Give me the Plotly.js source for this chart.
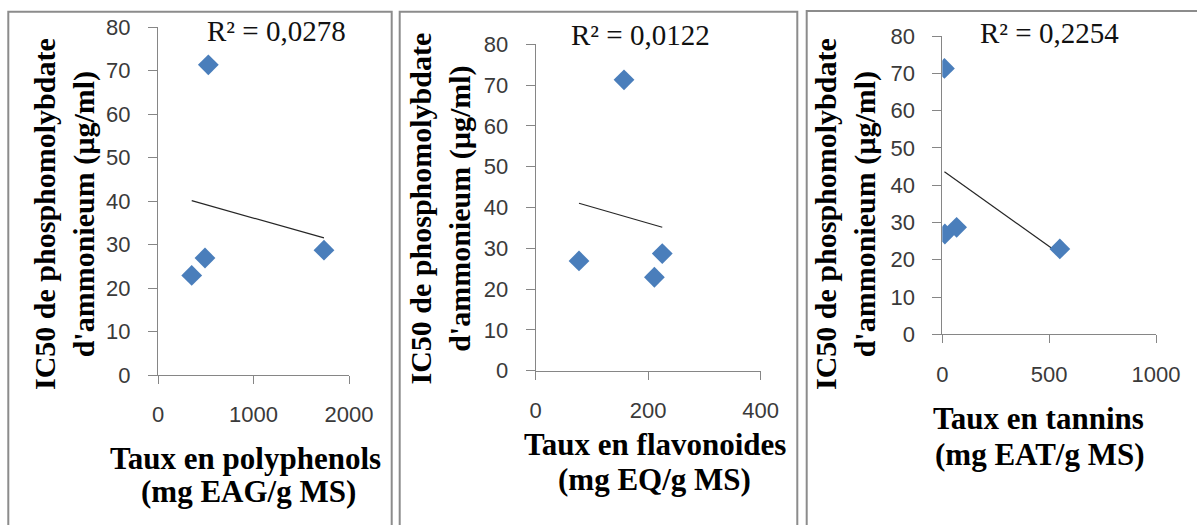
<!DOCTYPE html>
<html>
<head>
<meta charset="utf-8">
<script src="https://cdn.plot.ly/plotly-3.0.1.min.js"></script>
<style>
  html, body { margin: 0; padding: 0; background: #ffffff; }
  #chart { width: 1197px; height: 525px; }
</style>
</head>
<body>
<div id="chart"></div>
<script>
// ---- Data ----
// Four samples: IC50 of phosphomolybdate (µg/ml)
const ic50 = [22.9, 26.9, 71.3, 28.7];
// Content of each sample
const polyphenols = [353, 492, 527, 1738];   // mg EAG/g MS
const flavonoides = [211, 77, 157, 225];     // mg EQ/g MS
const tannins = [550, 12, 10, 67];           // mg EAT/g MS

const r2Labels = ["R² = 0,0278", "R² = 0,0122", "R² = 0,2254"];
const yTitleLines = ["IC50 de phosphomolybdate", "d'ammonieum (µg/ml)"];
const xTitleLines = [
  ["Taux en polyphenols", "(mg EAG/g MS)"],
  ["Taux en flavonoides", "(mg EQ/g MS)"],
  ["Taux en tannins", "(mg EAT/g MS)"]
];
const xRanges = [[0, 2000], [0, 400], [0, 1000]];
const xDticks = [1000, 200, 500];
const yRange = [0, 80];
const yDtick = 10;

// ---- Layout helpers (pixel -> paper) ----
const W = 1197, H = 525;
const px = x => x / W;
const py = y => 1 - y / H;

const serif = 'Liberation Serif, Times New Roman, DejaVu Serif, serif';
const sans = 'Liberation Sans, Arial, sans-serif';
const axisGray = '#868686';
const tickColor = '#3a3a3a';
const markerBlue = '#4a7ebb';

// Least-squares linear trend line across the data x-range
function trend(xs, ys) {
  const n = xs.length;
  const mx = xs.reduce((a, b) => a + b, 0) / n;
  const my = ys.reduce((a, b) => a + b, 0) / n;
  let sxy = 0, sxx = 0;
  for (let i = 0; i < n; i++) { sxy += (xs[i] - mx) * (ys[i] - my); sxx += (xs[i] - mx) ** 2; }
  const b = sxy / sxx, a = my - b * mx;
  const x0 = Math.min(...xs), x1 = Math.max(...xs);
  return { x: [x0, x1], y: [a + b * x0, a + b * x1] };
}

const xsets = [polyphenols, flavonoides, tannins];
const traces = [];
xsets.forEach((xs, i) => {
  const ax = i === 0 ? '' : String(i + 1);
  const t = trend(xs, ic50);
  traces.push({
    type: 'scatter', mode: 'lines', x: t.x, y: t.y,
    xaxis: 'x' + ax, yaxis: 'y' + ax,
    line: { color: '#262626', width: 1.2 }, hoverinfo: 'skip', showlegend: false
  });
  traces.push({
    type: 'scatter', mode: 'markers', x: xs, y: ic50,
    xaxis: 'x' + ax, yaxis: 'y' + ax,
    marker: { symbol: 'diamond', size: 16, color: markerBlue, line: { width: 0 } },
    showlegend: false
  });
});

// plot-area pixel boxes: [left, right, top(80), bottom(0)]
const boxes = [
  [158, 349, 27, 375],
  [535.7, 760.7, 44.3, 370.7],
  [942.3, 1156, 36, 334.3]
];

const layout = {
  width: W, height: H,
  margin: { l: 0, r: 0, t: 0, b: 0 },
  paper_bgcolor: '#ffffff', plot_bgcolor: '#ffffff',
  showlegend: false,
  shapes: [], annotations: []
};

boxes.forEach((b, i) => {
  const ax = i === 0 ? '' : String(i + 1);
  layout['xaxis' + ax] = {
    domain: [px(b[0]), px(b[1])], anchor: 'y' + ax,
    range: xRanges[i], dtick: xDticks[i], tick0: 0,
    showgrid: false, zeroline: false, showline: true,
    linecolor: axisGray, linewidth: 1,
    ticks: 'outside', ticklen: 8, tickcolor: axisGray, tickwidth: 1,
    ticklabelstandoff: 12,
    tickfont: { family: sans, size: 22, color: tickColor },
    fixedrange: true
  };
  layout['yaxis' + ax] = {
    domain: [py(b[3]), py(b[2])], anchor: 'x' + ax,
    range: yRange, dtick: yDtick, tick0: 0,
    showgrid: false, zeroline: false, showline: true,
    linecolor: axisGray, linewidth: 1,
    ticks: 'outside', ticklen: 9, tickcolor: axisGray, tickwidth: 1,
    ticklabelstandoff: 13,
    tickfont: { family: sans, size: 22, color: tickColor },
    fixedrange: true
  };
});

// Panel borders (bottom edge continues below the picture)
const borders = [[8.3, 391.7, 11.7], [399.7, 797.3, 11.7], [806.7, 1210, 11]];
borders.forEach(bd => {
  layout.shapes.push({
    type: 'rect', xref: 'paper', yref: 'paper',
    x0: px(bd[0]), x1: px(bd[1]), y0: -0.05, y1: py(bd[2]),
    line: { color: '#8c8c8c', width: 2 }, fillcolor: 'rgba(0,0,0,0)', layer: 'below'
  });
});

// R² labels
const r2Pos = [[276, 31], [640, 35], [1049, 33]];
r2Pos.forEach((p, i) => {
  layout.annotations.push({
    xref: 'paper', yref: 'paper', x: px(p[0]), y: py(p[1]),
    xanchor: 'center', yanchor: 'middle', showarrow: false,
    text: r2Labels[i], font: { family: serif, size: 29, color: '#111111' }
  });
});

// Y titles (rotated, two lines)
const yTitlePos = [[65, 214], [440.5, 209], [846, 214]];
yTitlePos.forEach(p => {
  layout.annotations.push({
    xref: 'paper', yref: 'paper', x: px(p[0]), y: py(p[1]),
    xanchor: 'center', yanchor: 'middle', showarrow: false, textangle: -90,
    text: yTitleLines[0] + '<br>' + yTitleLines[1],
    font: { family: serif, size: 30, color: '#000000', weight: 'bold' }
  });
});

// X titles (one annotation per line)
const xTitlePos = [
  [[245, 458], [248, 491]],
  [[655, 444], [654, 479.5]],
  [[1038, 418], [1040, 454.5]]
];
xTitlePos.forEach((pair, i) => {
  pair.forEach((p, j) => {
    layout.annotations.push({
      xref: 'paper', yref: 'paper', x: px(p[0]), y: py(p[1]),
      xanchor: 'center', yanchor: 'middle', showarrow: false,
      text: xTitleLines[i][j],
      font: { family: serif, size: 31, color: '#000000', weight: 'bold' }
    });
  });
});

Plotly.newPlot('chart', traces, layout, { staticPlot: true, displayModeBar: false });
</script>
</body>
</html>
